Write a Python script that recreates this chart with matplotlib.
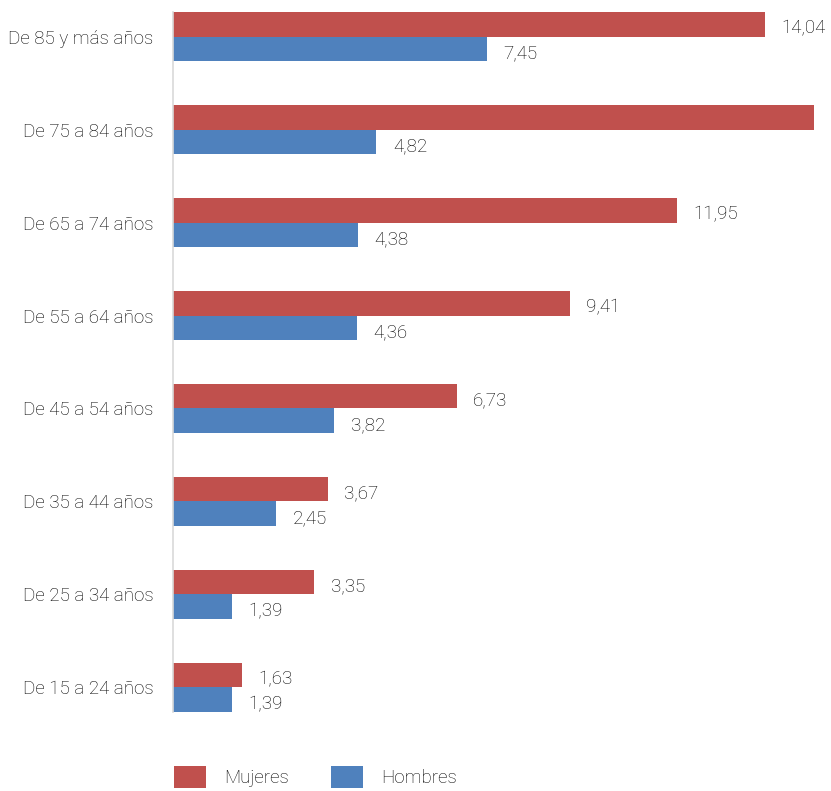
# Barras horizontales agrupadas: Mujeres vs Hombres por grupo de edad

import matplotlib.pyplot as plt
import numpy as np

plt.rcParams['font.family'] = ['Roboto', 'DejaVu Sans']
plt.rcParams['font.weight'] = 'light'

# Grupos de edad (de abajo hacia arriba)
grupos = ["De 15 a 24 años", "De 25 a 34 años", "De 35 a 44 años", "De 45 a 54 años",
          "De 55 a 64 años", "De 65 a 74 años", "De 75 a 84 años", "De 85 y más años"]

# Valores (%)
mujeres = [1.63, 3.35, 3.67, 6.73, 9.41, 11.95, 15.2, 14.04]
hombres = [1.39, 1.39, 2.45, 3.82, 4.36, 4.38, 4.82, 7.45]

rojo = "#C0504D"
azul = "#4F81BD"
texto = "#000000"

fig = plt.figure(figsize=(8.31, 7.91), dpi=100)
ax = fig.add_axes([173 / 831, 79 / 791, 1 - 173 / 831, 700 / 791])

y = np.arange(len(grupos))
h = 0.265
b1 = ax.barh(y + h / 2, mujeres, height=h, color=rojo, label="Mujeres")
b2 = ax.barh(y - h / 2, hombres, height=h, color=azul, label="Hombres")

xmax = (831 - 173) / 42.15
ax.set_xlim(0, xmax)
ax.set_ylim(-h, len(grupos) - 1 + h)

def fmt(v):
    return f"{v:.2f}".replace(".", ",")

# etiquetas de valor (la de 75-84 queda fuera del gráfico, como en el original)
for bars, vals in ((b1, mujeres), (b2, hombres)):
    for bar, v in zip(bars, vals):
        if v > xmax - 1:
            continue
        ax.annotate(fmt(v), (v, bar.get_y() + bar.get_height() / 2),
                    xytext=(12, -3), textcoords="offset points",
                    ha="left", va="center", fontsize=13.5, color=texto)

ax.set_yticks(y)
ax.set_yticklabels(grupos, fontsize=13.5, color=texto)
ax.tick_params(axis="y", length=0, pad=14)
ax.set_xticks([])
for s in ("top", "right", "bottom"):
    ax.spines[s].set_visible(False)
ax.spines["left"].set_color("#d9d9d9")
ax.spines["left"].set_linewidth(1.2)

fig.legend(handles=[b1, b2], loc="center left",
           bbox_to_anchor=(174 / 831, 1 - 777 / 791), ncol=2, frameon=False,
           fontsize=13.5, handlelength=1.7, handleheight=1.45, handletextpad=1.0,
           columnspacing=2.2, borderpad=0, borderaxespad=0, labelcolor=texto)

fig.savefig("out.png", dpi=100)
